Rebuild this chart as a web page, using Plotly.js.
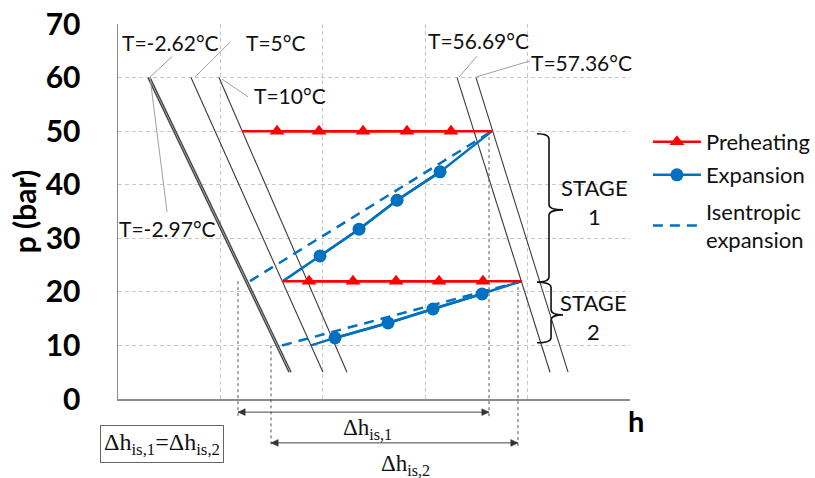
<!DOCTYPE html>
<html>
<head>
<meta charset="utf-8">
<script src="https://cdn.plot.ly/plotly-3.0.1.min.js"></script>
<style>html,body{margin:0;padding:0;background:#fff;}#chart{width:815px;height:478px;}</style>
</head>
<body>
<div id="chart"></div>
<script>
// ---------- data ----------
const yTicks = [0, 10, 20, 30, 40, 50, 60, 70];
// isotherms: label, h at p=60 (top) and h at p=5 (bottom)
const isoLabels = ['T=-2.97°C', 'T=-2.62°C', 'T=5°C', 'T=10°C', 'T=56.69°C', 'T=57.36°C'];
const isoTopH   = [29.3, 31.3, 71.3, 98.6, 331.1, 349.6];
const isoBotH   = [167.0, 169.0, 200.2, 223.6, 421.9, 439.5];
const isoP      = [60, 5];

// preheating (isobaric)
const preH1 = [121.1, 365.2];  const preP1 = [50, 50];
const preMarkH1 = [155.3, 196.3, 239.3, 282.2, 325.2];
const preH2 = [161.1, 394.5];  const preP2 = [22, 22];
const preMarkH2 = [186.5, 229.5, 271.5, 313.5, 356.4];

// expansion (real)
const expH1 = [161.1, 197.3, 235.4, 272.5, 314.5, 365.2];
const expP1 = [22, 26.7, 31.7, 37.1, 42.4, 50];
const expH2 = [188.5, 211.9, 263.7, 307.6, 355.5, 394.5];
const expP2 = [10, 11.4, 14.2, 16.8, 19.6, 22];

// isentropic expansion
const isH1 = [128.9, 365.2]; const isP1 = [22, 50];
const isH2 = [160.2, 394.5]; const isP2 = [10, 22];

// enthalpy-difference markers
const dotH    = [117.2, 149.4, 362.3, 390.6];
const dotTopP = [22, 10, 50, 22];
const arrow1H = [117.2, 362.3];
const arrow2H = [149.4, 390.6];

// ---------- styling ----------
const RED = '#FF0000', BLUE = '#0070C0', ISO = '#3a3a3a';
const FONT = 'Lato, "Open Sans", sans-serif';
const SERIF = '"Liberation Serif", "DejaVu Serif", serif';
const yMax = 70;

const traces = [];
// isotherms
isoLabels.forEach((lab, i) => {
  traces.push({
    x: [isoTopH[i], isoBotH[i]], y: isoP, mode: 'lines', name: lab,
    line: {color: i < 2 ? '#4a4a4a' : ISO, width: i < 2 ? 1.5 : 1.1},
    showlegend: false, hoverinfo: 'skip'
  });
});
// isentropic dashed
traces.push({
  x: isH1.concat([null], isH2), y: isP1.concat([null], isP2), mode: 'lines',
  name: 'Isentropic<br>expansion', line: {color: BLUE, width: 2.5, dash: '10px,7px'},
  legend: 'legend3'
});
// expansion lines (full) + markers
traces.push({
  x: expH1.concat([null], expH2), y: expP1.concat([null], expP2), mode: 'lines',
  line: {color: BLUE, width: 2.5}, showlegend: false, hoverinfo: 'skip'
});
traces.push({
  x: expH1.slice(1, -1).concat([null], expH2.slice(1, -1)),
  y: expP1.slice(1, -1).concat([null], expP2.slice(1, -1)),
  mode: 'lines+markers', name: 'Expansion',
  line: {color: BLUE, width: 2.5}, marker: {symbol: 'circle', size: 13, color: BLUE},
  legend: 'legend2'
});
// preheating lines + markers
traces.push({
  x: preH1.concat([null], preH2), y: preP1.concat([null], preP2), mode: 'lines',
  line: {color: RED, width: 2.5}, showlegend: false, hoverinfo: 'skip'
});
traces.push({
  x: preMarkH1.concat([null], preMarkH2),
  y: preMarkH1.map(() => preP1[0]).concat([null], preMarkH2.map(() => preP2[0])),
  mode: 'lines+markers', name: 'Preheating',
  line: {color: RED, width: 2.5}, marker: {symbol: 'triangle-up', size: 13, color: RED},
  legend: 'legend'
});

// ---------- shapes ----------
const shapes = [];
// leader lines for isotherm labels
const leaders = [
  [[52.7, 63.9], [31.3, 60.1]],
  [[109.4, 66.6], [75.2, 60.1]],
  [[127.0, 56.4], [101.6, 59.7]],
  [[350.6, 64.0], [333.0, 60.1]],
  [[402.3, 63.1], [349.6, 60.1]],
  [[47.9, 34.9], [31.3, 60.0]]
];
leaders.forEach(l => shapes.push({type: 'line', xref: 'x', yref: 'y',
  x0: l[0][0], y0: l[0][1], x1: l[1][0], y1: l[1][1], line: {color: '#a0a0a0', width: 1}}));
// dotted verticals
const dotBottom = [-0.045, -0.128, -0.048, -0.128];
dotH.forEach((h, i) => shapes.push({type: 'line', xref: 'x', yref: 'paper',
  x0: h, x1: h, y0: dotTopP[i] / yMax, y1: dotBottom[i], line: {color: '#555', width: 1, dash: 'dot'}}));
// double-headed arrows
function dblArrow(h0, h1, y) {
  const aw = 7, ah = 0.009;
  shapes.push({type: 'line', xref: 'x', yref: 'paper', x0: h0, x1: h1, y0: y, y1: y, line: {color: '#444', width: 1}});
  shapes.push({type: 'path', xref: 'x', yref: 'paper', fillcolor: '#333', line: {color: '#333', width: 0.5},
    path: `M ${h0},${y} L ${h0 + aw},${y + ah} L ${h0 + aw},${y - ah} Z`});
  shapes.push({type: 'path', xref: 'x', yref: 'paper', fillcolor: '#333', line: {color: '#333', width: 0.5},
    path: `M ${h1},${y} L ${h1 - aw},${y + ah} L ${h1 - aw},${y - ah} Z`});
}
dblArrow(arrow1H[0], arrow1H[1], -0.035);
dblArrow(arrow2H[0], arrow2H[1], -0.117);
// curly braces
function brace(hL, hM, hT, pTop, pTip, pBot) {
  const r = 1.0;
  return `M ${hL},${pTop} Q ${hM},${pTop} ${hM},${pTop - r} L ${hM},${pTip + r} ` +
         `Q ${hM},${pTip} ${hT},${pTip} Q ${hM},${pTip} ${hM},${pTip - r} ` +
         `L ${hM},${pBot + r} Q ${hM},${pBot} ${hL},${pBot}`;
}
shapes.push({type: 'path', xref: 'x', yref: 'y', path: brace(409.2, 420.9, 434.6, 49.5, 35.3, 21.8), line: {color: '#111', width: 1.6}});
shapes.push({type: 'path', xref: 'x', yref: 'y', path: brace(409.2, 422.9, 434.6, 21.8, 15.7, 10.5), line: {color: '#111', width: 1.6}});

// ---------- annotations ----------
const lab = (text, x, y, size) => ({text, x, y, xref: 'x', yref: 'y', showarrow: false,
  xanchor: 'center', yanchor: 'middle', font: {family: FONT, size: size || 21, color: '#111'}});
const annotations = [
  lab(isoLabels[1], 50.8, 66.6),
  lab(isoLabels[2], 154.3, 66.6),
  lab(isoLabels[3], 168.0, 56.6),
  lab(isoLabels[4], 352.5, 67.0),
  lab(isoLabels[5], 453.0, 62.9),
  lab(isoLabels[0], 48.8, 31.9),
  lab('STAGE<br>1', 465.8, 36.7, 22),
  lab('STAGE<br>2', 463.9, 15.3, 22),
  {xref: 'x', yref: 'paper', x: 243.2, y: -0.08, showarrow: false, xanchor: 'center', yanchor: 'middle',
   text: 'Δh<sub>is,1</sub>', font: {family: SERIF, size: 23, color: '#111'}},
  {xref: 'x', yref: 'paper', x: 280.3, y: -0.176, showarrow: false, xanchor: 'center', yanchor: 'middle',
   text: 'Δh<sub>is,2</sub>', font: {family: SERIF, size: 23, color: '#111'}},
  {xref: 'paper', yref: 'paper', x: 0.086, y: -0.12, showarrow: false, xanchor: 'center', yanchor: 'middle',
   text: 'Δh<sub>is,1</sub>=Δh<sub>is,2</sub>',
   font: {family: SERIF, size: 24, color: '#111'}, bordercolor: '#666', borderwidth: 1, borderpad: 3},
  {xref: 'paper', yref: 'paper', x: 1.0117, y: -0.056, showarrow: false, xanchor: 'center', yanchor: 'middle',
   text: 'h', font: {family: FONT, size: 29, color: '#000', weight: 'bold'}}
];

const legendBase = (yc) => ({x: 1.035, y: yc, xanchor: 'left', yanchor: 'middle',
  font: {family: FONT, size: 22, color: '#111'}, itemwidth: 48, bgcolor: 'rgba(0,0,0,0)', valign: 'middle'});

const layout = {
  width: 815, height: 478,
  margin: {l: 118, r: 185, t: 24, b: 79, autoexpand: false},
  paper_bgcolor: '#fff', plot_bgcolor: '#fff',
  font: {family: FONT, color: '#000'},
  xaxis: {range: [0, 500], dtick: 100, tick0: 0, showticklabels: false, ticks: '',
    showgrid: true, gridcolor: '#c8c8c8', griddash: '4px,3px', gridwidth: 1,
    showline: true, linecolor: '#8c8c8c', linewidth: 1.5, zeroline: false, fixedrange: true},
  yaxis: {range: [0, yMax], tickvals: yTicks, ticks: 'outside', ticklen: 30, tickcolor: 'rgba(0,0,0,0)',
    tickfont: {family: FONT, size: 30, color: '#000', weight: 'bold'},
    showgrid: true, gridcolor: '#c8c8c8', griddash: '4px,3px', gridwidth: 1,
    showline: true, linecolor: '#8c8c8c', linewidth: 1.5, zeroline: false, fixedrange: true,
    title: {text: 'p (bar)', standoff: 0, font: {family: FONT, size: 30, color: '#000', weight: 'bold'}}},
  showlegend: true,
  legend: legendBase((399 - 142) / 375),
  legend2: legendBase((399 - 175) / 375),
  legend3: legendBase((399 - 226) / 375),
  shapes, annotations
};

Plotly.newPlot('chart', traces, layout, {displayModeBar: false, staticPlot: true});
</script>
</body>
</html>
